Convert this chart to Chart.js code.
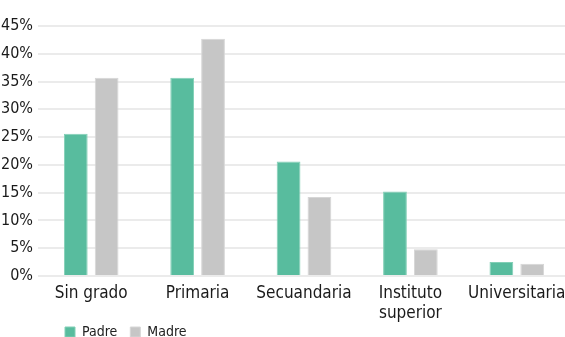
<!DOCTYPE html>
<html>
<head>
<meta charset="utf-8">
<script src="https://cdn.jsdelivr.net/npm/chart.js@4/dist/chart.umd.min.js"></script>
<style>
  html, body { margin: 0; padding: 0; background: #fff; overflow: hidden; }
  #wrap { width: 570px; height: 337px; }
</style>
</head>
<body>
<div id="wrap"><canvas id="myChart"></canvas></div>
<script>
const categories = ['Sin grado', 'Primaria', 'Secuandaria', ['Instituto', 'superior'], 'Universitaria'];
const padre = [25.6, 35.7, 20.6, 15.2, 2.5];
const madre = [35.7, 42.7, 14.2, 4.8, 2.2];
const yTicks = [0, 5, 10, 15, 20, 25, 30, 35, 40, 45];

const fontFamily = '"Liberation Sans Narrow", "DejaVu Sans Condensed", "Noto Sans", sans-serif';

// put the legend where the original has it (bottom left, under the first bars)
const legendPlace = {
    id: 'legendPlace',
    afterLayout(chart) {
        const lg = chart.legend;
        const h = lg.bottom - lg.top;
        lg.left = 52;
        lg.right = lg.left + lg.width;
        lg.top = 312;
        lg.bottom = lg.top + h;
    }
};

const ctx = document.getElementById('myChart');

new Chart(ctx, {
    type: 'bar',
    data: {
        labels: categories,
        datasets: [{
            label: 'Padre',
            data: padre,
            backgroundColor: '#58BC9E',
            borderColor: '#82CFB6',
            borderWidth: 1,
            categoryPercentage: 0.58,
            barPercentage: 0.77
        }, {
            label: 'Madre',
            data: madre,
            backgroundColor: '#C6C6C6',
            borderColor: '#D6D6D6',
            borderWidth: 1,
            categoryPercentage: 0.58,
            barPercentage: 0.77
        }]
    },
    options: {
        responsive: true,
        maintainAspectRatio: false,
        animation: false,
        layout: {
            padding: { top: 26, right: 0, left: 0, bottom: -26 }
        },
        plugins: {
            legend: {
                position: 'bottom',
                align: 'start',
                labels: {
                    boxWidth: 10,
                    boxHeight: 10,
                    padding: 13,
                    color: '#222',
                    font: { family: fontFamily, size: 14 }
                }
            },
            tooltip: { enabled: false }
        },
        scales: {
            x: {
                grid: { display: false },
                border: { display: false },
                afterFit(axis) { axis.height = 50; },
                ticks: {
                    color: '#1a1a1a',
                    padding: 0,
                    maxRotation: 0,
                    font: { family: fontFamily, size: 17, lineHeight: 1.15 }
                }
            },
            y: {
                min: 0,
                max: 45,
                afterFit(axis) { axis.width = 38; },
                afterBuildTicks(axis) {
                    axis.ticks = yTicks.map(v => ({ value: v }));
                },
                grid: {
                    color: '#EBEBEB',
                    lineWidth: 2,
                    drawTicks: false
                },
                border: { display: false },
                ticks: {
                    color: '#1a1a1a',
                    padding: 5,
                    font: { family: fontFamily, size: 16 },
                    callback: v => v + '%'
                }
            }
        }
    },
    plugins: [legendPlace]
});
</script>
</body>
</html>
